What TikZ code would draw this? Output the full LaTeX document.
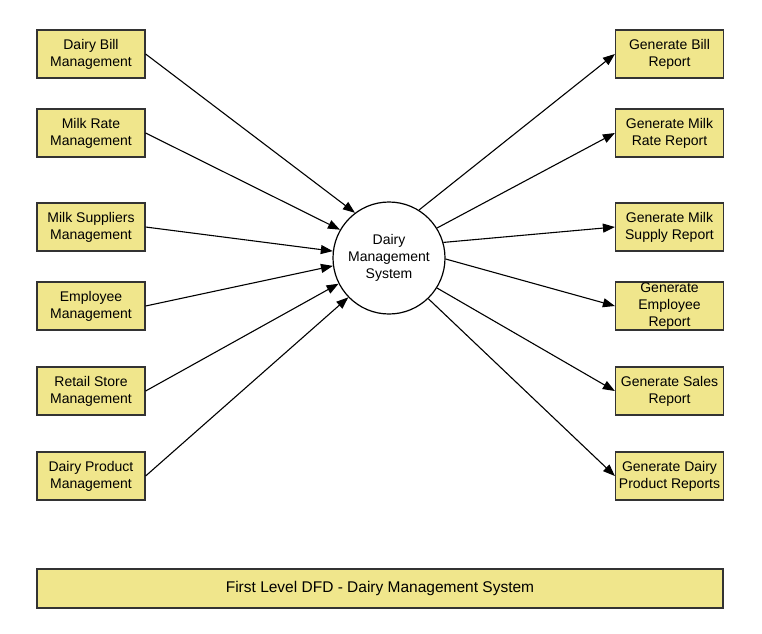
\documentclass[tikz,border=0pt]{standalone}
\usepackage{fontspec}
\setmainfont{Liberation Sans}
\usetikzlibrary{arrows.meta}
\definecolor{boxfill}{RGB}{240,230,140}
\definecolor{boxline}{RGB}{51,51,51}
\tikzset{
  entity/.style={draw=boxline,fill=boxfill,line width=1.2pt,minimum width=108pt,minimum height=48pt,inner sep=0pt,align=center,font=\fontsize{14}{17}\selectfont},
  flow/.style={line width=1.1pt,-{Triangle[length=12pt,width=9pt]}}
}
\begin{document}
\begin{tikzpicture}[x=1pt,y=-1pt]
	\useasboundingbox (0,0) rectangle (762,633);
	\node[entity] (bill) at (91,54) {Dairy Bill\\Management};
	\node[entity] (rate) at (91,133) {Milk Rate\\Management};
	\node[entity] (supp) at (91,227) {Milk Suppliers\\Management};
	\node[entity] (emp) at (91,306) {Employee\\Management};
	\node[entity] (shop) at (91,391) {Retail Store\\Management};
	\node[entity] (prod) at (91,476) {Dairy Product\\Management};
	\node[entity] (rbill) at (669.5,54) {Generate Bill\\Report};
	\node[entity] (rrate) at (669.5,133) {Generate Milk\\Rate Report};
	\node[entity] (rsupp) at (669.5,227) {Generate Milk\\Supply Report};
	\node[entity] (remp) at (669.5,306) {Generate\\Employee\\Report};
	\node[entity] (rsale) at (669.5,391) {Generate Sales\\Report};
	\node[entity] (rprod) at (669.5,476) {Generate Dairy\\Product Reports};
	\node[circle,draw,line width=1.2pt,minimum size=112pt,inner sep=0pt,align=center,font=\fontsize{14}{17}\selectfont] (dms) at (389,258) {Dairy\\Management\\System};
	\foreach \src/\ang in {bill/127,rate/150,supp/173,emp/188,shop/207,prod/224}
		\draw[flow] (\src.east) -- (dms.\ang);
	\foreach \ang/\dst in {58/rbill,32/rrate,16/rsupp,-1/remp,-32/rsale,-46/rprod}
		\draw[flow] (dms.\ang) -- (\dst.west);
	\node[entity,minimum width=686pt,minimum height=39pt,font=\fontsize{15.5}{18}\selectfont] (title) at (380,588.5) {First Level DFD - Dairy Management System};
\end{tikzpicture}
\end{document}
